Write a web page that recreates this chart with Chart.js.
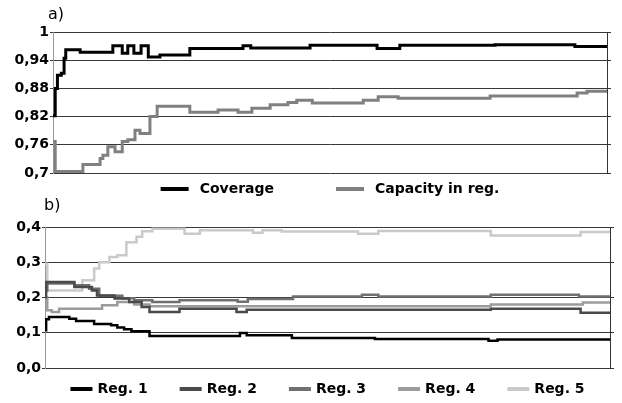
<!DOCTYPE html>
<html>
<head>
<meta charset="utf-8">
<script src="https://cdn.jsdelivr.net/npm/chart.js@4.4.0/dist/chart.umd.min.js"></script>
<style>
html, body { margin: 0; padding: 0; background: #fff; }
#wrap { position: relative; width: 622px; height: 403px; }
.panel { position: absolute; left: 0; width: 622px; }
#panelA { top: 0; height: 196px; }
#panelB { top: 196px; height: 207px; }
</style>
</head>
<body>
<div id="wrap">
  <div class="panel" id="panelA"><canvas id="chartA"></canvas></div>
  <div class="panel" id="panelB"><canvas id="chartB"></canvas></div>
</div>
<script>
// a) valores (x = posição relativa 0..100)
const coverageX = [0, 0.4, 0.8, 1.5, 2.0, 2.3, 4.9, 10.8, 12.5, 13.5, 14.6, 15.9, 17.2, 19.3, 24.7, 34.3, 35.7, 46.4, 58.5, 62.6, 79.8, 94.2, 100];
const coverageY = [0.822, 0.88, 0.908, 0.912, 0.944, 0.962, 0.957, 0.971, 0.955, 0.971, 0.955, 0.971, 0.947, 0.951, 0.965, 0.971, 0.966, 0.972, 0.965, 0.972, 0.973, 0.969, 0.969];
const capacityX = [0, 0.4, 5.4, 8.5, 9.0, 9.9, 11.2, 12.5, 13.5, 14.8, 15.7, 17.5, 18.8, 24.7, 29.8, 33.4, 35.9, 39.2, 42.4, 44.0, 46.8, 56.0, 58.7, 62.3, 78.9, 94.6, 96.4, 100];
const capacityY = [0.767, 0.703, 0.718, 0.731, 0.738, 0.756, 0.745, 0.767, 0.771, 0.791, 0.784, 0.820, 0.842, 0.829, 0.834, 0.829, 0.838, 0.845, 0.850, 0.855, 0.849, 0.855, 0.862, 0.859, 0.864, 0.870, 0.874, 0.874];
const topTicks = ['0,7', '0,76', '0,82', '0,88', '0,94', '1'];

// b) regiões
const reg1X = [0, 0.2, 0.7, 4.3, 5.5, 8.7, 11.7, 12.8, 14.0, 15.3, 18.5, 34.5, 35.7, 43.7, 58.4, 78.5, 80.1, 100];
const reg1Y = [0.107, 0.138, 0.145, 0.140, 0.133, 0.125, 0.121, 0.115, 0.110, 0.104, 0.091, 0.099, 0.093, 0.085, 0.082, 0.077, 0.081, 0.081];
const reg2X = [0, 0.2, 5.2, 8.3, 9.2, 12.3, 14.9, 17.1, 18.5, 23.8, 33.9, 35.7, 78.9, 94.8, 100];
const reg2Y = [0.201, 0.244, 0.230, 0.220, 0.206, 0.197, 0.187, 0.173, 0.159, 0.168, 0.159, 0.165, 0.168, 0.157, 0.157];
const reg3X = [0, 0.4, 5.2, 7.8, 9.6, 13.7, 15.8, 19.0, 23.8, 34.1, 35.9, 43.9, 56.1, 59.0, 78.9, 94.5, 100];
const reg3Y = [0.22, 0.24, 0.235, 0.225, 0.205, 0.198, 0.192, 0.187, 0.192, 0.188, 0.196, 0.203, 0.208, 0.203, 0.208, 0.203, 0.203];
const reg4X = [0, 0.4, 1.2, 2.5, 10.1, 12.8, 15.8, 18.5, 78.9, 95.2, 100];
const reg4Y = [0.20, 0.164, 0.159, 0.168, 0.178, 0.187, 0.180, 0.175, 0.180, 0.186, 0.186];
const reg5X = [0, 0.4, 6.6, 8.7, 9.6, 11.4, 12.8, 14.4, 16.2, 17.2, 19.0, 24.7, 27.4, 36.8, 38.5, 41.9, 55.4, 59.0, 78.9, 94.8, 100];
const reg5Y = [0.296, 0.22, 0.249, 0.282, 0.300, 0.315, 0.320, 0.357, 0.372, 0.388, 0.395, 0.381, 0.391, 0.384, 0.391, 0.387, 0.381, 0.389, 0.376, 0.386, 0.386];
const bottomTicks = ['0,0', '0,1', '0,2', '0,3', '0,4'];

const tickFont = { family: 'DejaVu Sans', size: 14, weight: 'bold' };

function pts(xs, ys) {
    return xs.map((x, i) => ({ x: x, y: ys[i] }));
}

function serie(label, xs, ys, color, width) {
    return {
        label: label,
        data: pts(xs, ys),
        borderColor: color,
        backgroundColor: color,
        borderWidth: width,
        pointRadius: 0,
        stepped: true,
        tension: 0
    };
}

// legenda com traço + painel a)/b)
const lineLegend = {
    id: 'lineLegend',
    afterDraw(chart, args, opts) {
        const { ctx, chartArea } = chart;
        ctx.save();
        ctx.font = 'bold 14px "DejaVu Sans"';
        ctx.textBaseline = 'middle';
        const items = chart.data.datasets.map(ds => ({
            text: ds.label, color: ds.borderColor, w: ctx.measureText(ds.label).width
        }));
        const total = items.reduce((s, it) => s + opts.boxWidth + opts.gap + it.w, 0) + opts.spacing * (items.length - 1);
        let x = (chartArea.left + chartArea.right) / 2 - total / 2;
        items.forEach(it => {
            ctx.fillStyle = it.color;
            ctx.fillRect(x, opts.y - 2, opts.boxWidth, 4);
            x += opts.boxWidth + opts.gap;
            ctx.fillStyle = '#000';
            ctx.fillText(it.text, x, opts.y);
            x += it.w + opts.spacing;
        });
        ctx.font = '16px "DejaVu Sans"';
        ctx.fillStyle = '#000';
        ctx.fillText(opts.panel, opts.panelX, opts.panelY);
        ctx.restore();
    }
};

function scales(min, max, step, labels, leftW, rightW) {
    return {
        x: { type: 'linear', min: 0, max: 100, display: false },
        y: {
            min: min, max: max,
            ticks: { stepSize: step, callback: (v, i) => labels[i], color: '#000', font: tickFont, padding: 1, autoSkip: false },
            grid: { color: '#383838', lineWidth: 1, tickLength: 3 },
            border: { display: true, color: '#9a9a9a' },
            afterFit: s => { s.width = leftW; }
        },
        y2: {
            position: 'right', min: min, max: max,
            ticks: { stepSize: step, display: false },
            grid: { drawOnChartArea: false, tickLength: 4, color: '#333' },
            border: { display: true, color: '#333' },
            afterFit: s => { s.width = rightW; }
        }
    };
}

function initChartA() {
    new Chart(document.getElementById('chartA'), {
        type: 'line',
        data: {
            datasets: [
                serie('Coverage', coverageX, coverageY, '#000000', 3),
                serie('Capacity in reg.', capacityX, capacityY, '#808080', 3)
            ]
        },
        options: {
            responsive: true,
            maintainAspectRatio: false,
            animation: false,
            layout: { padding: { top: 32, bottom: 23, left: 0, right: 0 } },
            plugins: {
                legend: { display: false },
                tooltip: { enabled: false },
                lineLegend: { y: 189, boxWidth: 28, gap: 11, spacing: 62, panel: 'a)', panelX: 48, panelY: 15 }
            },
            scales: scales(0.7, 1, 0.06, topTicks, 53, 15)
        },
        plugins: [lineLegend]
    });
}

function initChartB() {
    new Chart(document.getElementById('chartB'), {
        type: 'line',
        data: {
            datasets: [
                serie('Reg. 1', reg1X, reg1Y, '#000000', 2.5),
                serie('Reg. 2', reg2X, reg2Y, '#4a4a4a', 2.5),
                serie('Reg. 3', reg3X, reg3Y, '#707070', 2.5),
                serie('Reg. 4', reg4X, reg4Y, '#9c9c9c', 2.5),
                serie('Reg. 5', reg5X, reg5Y, '#cacaca', 2.5)
            ]
        },
        options: {
            responsive: true,
            maintainAspectRatio: false,
            animation: false,
            layout: { padding: { top: 31, bottom: 35, left: 0, right: 0 } },
            plugins: {
                legend: { display: false },
                tooltip: { enabled: false },
                lineLegend: { y: 193, boxWidth: 22, gap: 5, spacing: 32, panel: 'b)', panelX: 44, panelY: 10 }
            },
            scales: scales(0, 0.4, 0.1, bottomTicks, 45, 12)
        },
        plugins: [lineLegend]
    });
}

initChartA();
initChartB();
</script>
</body>
</html>
